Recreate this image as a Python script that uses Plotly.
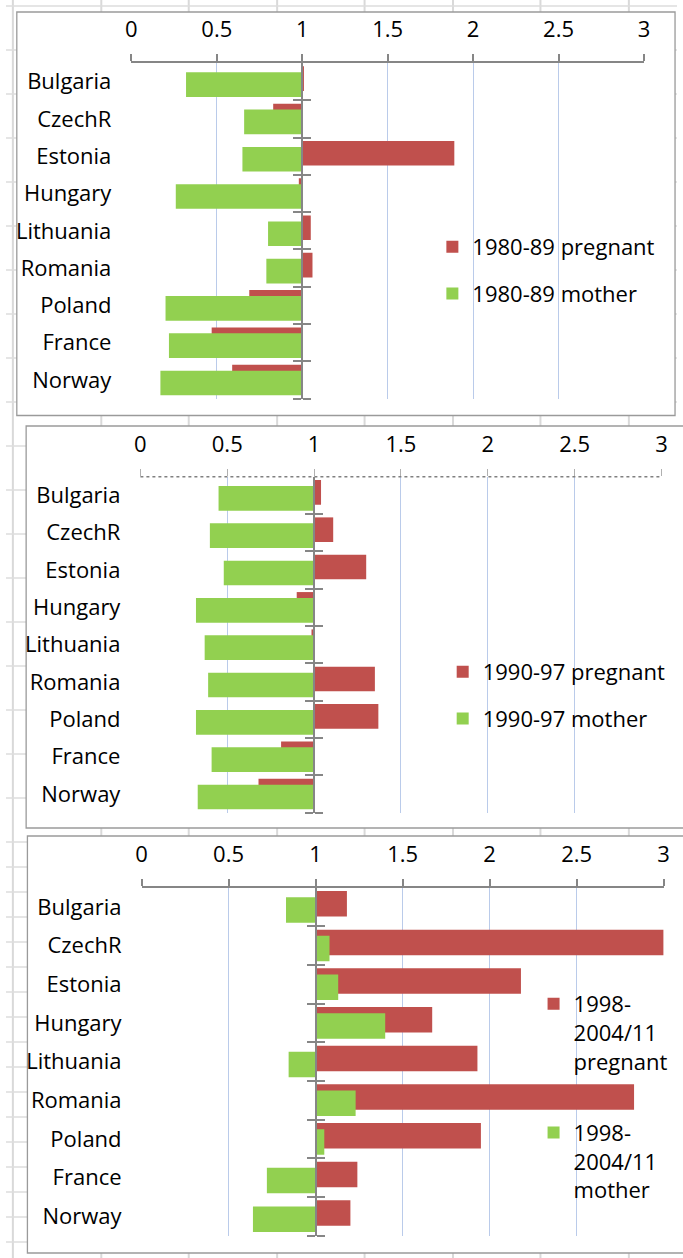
import plotly.graph_objects as go

W, H = 683, 1258

countries = ["Bulgaria", "CzechR", "Estonia", "Hungary", "Lithuania",
             "Romania", "Poland", "France", "Norway"]

# 1980-89
p8089_pregnant = [1.01, 0.83, 1.89, 0.98, 1.05, 1.06, 0.69, 0.47, 0.59]
p8089_mother = [0.32, 0.66, 0.65, 0.26, 0.80, 0.79, 0.20, 0.22, 0.17]
# 1990-97
p9097_pregnant = [1.04, 1.11, 1.30, 0.90, 0.985, 1.35, 1.37, 0.81, 0.68]
p9097_mother = [0.45, 0.40, 0.48, 0.32, 0.37, 0.39, 0.32, 0.41, 0.33]
# 1998-2004/11
p9811_pregnant = [1.18, 3.00, 2.18, 1.67, 1.93, 2.83, 1.95, 1.24, 1.20]
p9811_mother = [0.83, 1.08, 1.13, 1.40, 0.845, 1.23, 1.05, 0.72, 0.64]

series = [
    ("1980-89 pregnant", p8089_pregnant, "1980-89 mother", p8089_mother),
    ("1990-97 pregnant", p9097_pregnant, "1990-97 mother", p9097_mother),
    ("1998-<br>2004/11<br>pregnant", p9811_pregnant, "1998-<br>2004/11<br>mother", p9811_mother),
]

x_ticks = [0, 0.5, 1, 1.5, 2, 2.5, 3]
x_min, x_max = 0, 3
base_value = 1

RED = "#C0504D"
GREEN = "#92D050"
GRID = "#BACBEA"
AXIS = "#868686"
FONT = "Open Sans"

def px(xp):
    return xp / W

def py(yp):
    return 1 - yp / H

# panel geometry in pixels: plot area (x0, x1, ytop, ybottom), frame (x0, y0, x1, y1), legend (x, y)
panels = [
    dict(plot=(127.6, 649.4, 63.0, 398.6), frame=(11, 12, 681, 415.5), legend=(434, 226), dotted=False, valign="middle", gap=15),
    dict(plot=(136.8, 667.2, 476.7, 812.7), frame=(20.5, 426, 700, 828), legend=(444.5, 651), dotted=True, valign="middle", gap=15),
    dict(plot=(138.0, 669.4, 887.5, 1235.5), frame=(21.8, 836, 700, 1253), legend=(537, 983), dotted=False, valign="top", gap=40),
]

fig = go.Figure()
layout = dict(
    width=W, height=H,
    margin=dict(l=0, r=0, t=0, b=0),
    paper_bgcolor="white", plot_bgcolor="rgba(0,0,0,0)",
    barmode="overlay",
    font=dict(family=FONT, size=22, color="black"),
    showlegend=True,
)

shapes = []
# spreadsheet background grid
for xc in [7, 97, 186, 276, 365, 455, 544, 634]:
    shapes.append(dict(type="line", xref="paper", yref="paper", x0=px(xc), x1=px(xc), y0=0, y1=1,
                       line=dict(color="#D9D9D9", width=2), layer="below"))
yr = 6
while yr < 830:
    shapes.append(dict(type="line", xref="paper", yref="paper", x0=0, x1=1, y0=py(yr), y1=py(yr),
                       line=dict(color="#DDDDDD", width=1.5), layer="below"))
    yr += 44
yr = 842
while yr < H:
    shapes.append(dict(type="line", xref="paper", yref="paper", x0=0, x1=1, y0=py(yr), y1=py(yr),
                       line=dict(color="#DDDDDD", width=1.5), layer="below"))
    yr += 25

n = len(countries)
for i, (pname, pvals, mname, mvals) in enumerate(series):
    g = panels[i]
    xid = "" if i == 0 else str(i + 1)
    yid = xid
    xa, ya = "x" + xid, "y" + yid
    leg = "legend" + ("" if i == 0 else str(i + 1))
    x0p, x1p, ytp, ybp = g["plot"]
    fx0, fy0, fx1, fy1 = g["frame"]
    shapes.append(dict(type="rect", xref="paper", yref="paper",
                       x0=px(fx0), x1=px(fx1), y0=py(fy1), y1=py(fy0),
                       fillcolor="white", line=dict(color="#9A9A9A", width=1.3), layer="below"))

    fig.add_trace(go.Bar(
        y=countries, x=[v - base_value for v in pvals], base=base_value,
        orientation="h", name=pname, marker=dict(color=RED, line=dict(width=0)),
        width=0.66, offset=-0.41, xaxis=xa, yaxis=ya, legend=leg, legendgroup=f"p{i}",
    ))
    fig.add_trace(go.Bar(
        y=countries, x=[v - base_value for v in mvals], base=base_value,
        orientation="h", name=mname, marker=dict(color=GREEN, line=dict(width=0)),
        width=0.66, offset=-0.25, xaxis=xa, yaxis=ya, legend=leg, legendgroup=f"m{i}",
    ))

    xdom = [px(x0p), px(x1p)]
    ydom = [py(ybp), py(ytp)]
    layout["xaxis" + xid] = dict(
        domain=xdom, anchor=ya, side="top", range=[x_min, x_max],
        tickvals=x_ticks, ticktext=[f"{t:g}" for t in x_ticks],
        showgrid=True, gridcolor=GRID, gridwidth=1.2,
        showline=not g["dotted"], linecolor=AXIS, linewidth=2,
        ticks="outside", ticklen=7, tickcolor=AXIS if not g["dotted"] else "#B0B0B0",
        tickwidth=1.5 if not g["dotted"] else 1,
        ticklabelstandoff=8, zeroline=False,
        tickfont=dict(family=FONT, size=22, color="black"),
    )
    layout["yaxis" + yid] = dict(
        domain=ydom, anchor=xa, type="category",
        categoryorder="array", categoryarray=countries,
        range=[n - 0.5, -0.5], showgrid=False, showline=False, ticks="",
        zeroline=False, ticklabelstandoff=19,
        tickfont=dict(family=FONT, size=22, color="black"),
    )
    # vertical axis crossing at x = base_value, with cross tick marks at category boundaries
    pos = xdom[0] + (base_value - x_min) / (x_max - x_min) * (xdom[1] - xdom[0])
    for k, side in enumerate(["left", "right"]):
        oid = str(4 + 2 * i + k)
        layout["yaxis" + oid] = dict(
            overlaying=ya, anchor="free", position=pos, side=side,
            range=[n - 0.5, -0.5], tickvals=[c + 0.5 for c in range(n)],
            showticklabels=False, showgrid=False, zeroline=False,
            showline=True, linecolor=AXIS, linewidth=2,
            ticks="outside", ticklen=8, tickcolor=AXIS, tickwidth=1.5,
        )
        fig.add_trace(go.Scatter(x=[], y=[], xaxis=xa, yaxis="y" + oid, showlegend=False,
                                 hoverinfo="skip"))
    if g["dotted"]:
        shapes.append(dict(type="line", xref=xa + " domain", yref=ya + " domain",
                           x0=0, x1=1, y0=1, y1=1, line=dict(color="#808080", width=1.5, dash="dot"),
                           layer="above"))
    lx, ly = g["legend"]
    layout[leg] = dict(
        x=px(lx), y=py(ly), xanchor="left", yanchor="top",
        bgcolor="rgba(0,0,0,0)", borderwidth=0,
        font=dict(family=FONT, size=22, color="black"),
        tracegroupgap=g["gap"], valign=g["valign"], traceorder="grouped",
    )

layout["shapes"] = shapes
fig.update_layout(**layout)
fig.write_html(
    "out.html",
    config={"displayModeBar": False},
    post_script="document.body.style.margin='0';document.body.style.overflow='hidden';",
)
